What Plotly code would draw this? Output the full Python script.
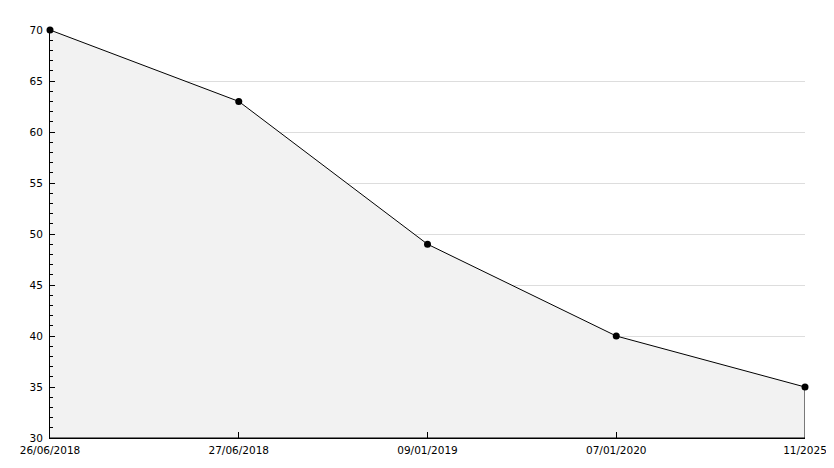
import plotly.graph_objects as go

dates = ["26/06/2018", "27/06/2018", "09/01/2019", "07/01/2020", "11/2025"]
values = [70, 63, 49, 40, 35]
y_min = 30
y_max = 70

fig = go.Figure()

# fill polygon with outline (closes down to the baseline)
fig.add_trace(go.Scatter(
    x=dates + [dates[-1], dates[0]],
    y=values + [y_min, y_min],
    mode="lines",
    fill="toself",
    fillcolor="#f2f2f2",
    line=dict(color="black", width=1),
    hoverinfo="skip",
    showlegend=False,
))
fig.add_trace(go.Scatter(
    x=dates, y=values,
    mode="markers",
    marker=dict(color="black", size=7, symbol="circle"),
    cliponaxis=False,
    showlegend=False,
))

fig.update_layout(
    width=826, height=460,
    margin=dict(l=42, r=29, t=22, b=30),
    paper_bgcolor="white", plot_bgcolor="white",
    font=dict(family="DejaVu Sans", size=10.5, color="black"),
)
fig.update_xaxes(
    type="category", range=[0, len(dates) - 1],
    showgrid=False, showline=True, linecolor="black", linewidth=1,
    ticks="inside", ticklen=6, tickcolor="black",
    ticklabelstandoff=2, automargin=False,
    zeroline=False,
)
fig.update_yaxes(
    range=[y_min, y_max], dtick=5, tick0=30,
    showgrid=True, gridcolor="#dddddd", gridwidth=1,
    showline=True, linecolor="black", linewidth=1,
    ticks="inside", ticklen=5, tickcolor="black",
    ticklabelstandoff=4, automargin=False,
    minor=dict(ticks="inside", ticklen=3, dtick=1, tickcolor="black", showgrid=False),
    zeroline=False,
)
fig.write_html("out.html")
